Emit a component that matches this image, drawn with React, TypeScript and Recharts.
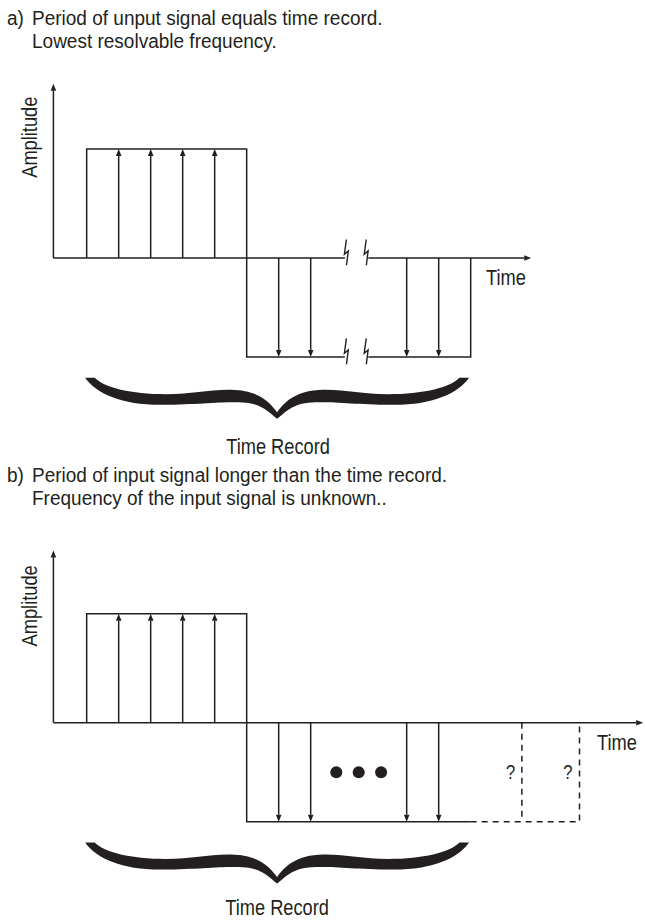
import React from "react"
import {
  ComposedChart, Line, Scatter, XAxis, YAxis,
  ReferenceLine, ReferenceArea,
} from "recharts"

// ─── Style ────────────────────────────────────────────────────────────────────
const INK = "#231f20"
const FONT = "'Liberation Sans', Arial, sans-serif"
const NARROW = 0.83   // condensed look of the original lettering
const W = 645
const H = 461

// x = sample index (one step between arrows), y = amplitude
const X_DOMAIN: [number, number] = [-2.709, 17.447]
const HIGH = 1.1
const LOW = -1.0

// ─── Panel a ──────────────────────────────────────────────────────────────────
const titleA = ["Period of unput signal equals time record.", "Lowest resolvable frequency."]
const waveA = [
  { x: 0, y: 0 }, { x: 0, y: HIGH }, { x: 5, y: HIGH }, { x: 5, y: LOW }, { x: 8.07, y: LOW },
  { x: 8.4, y: null },
  { x: 8.8, y: LOW }, { x: 12, y: LOW }, { x: 12, y: 0 },
]
const samplesA = [
  { x: 1, y: HIGH }, { x: 2, y: HIGH }, { x: 3, y: HIGH }, { x: 4, y: HIGH },
  { x: 6, y: LOW }, { x: 7, y: LOW }, { x: 10, y: LOW }, { x: 11, y: LOW },
]
const breaksA = [
  { x: 8.1, y: 0 }, { x: 8.72, y: 0 }, { x: 8.1, y: LOW }, { x: 8.72, y: LOW },
]
const labelsA = [
  { x: 13.1, y: -0.2, text: "Time" },
  { x: 5.98, y: -1.9, text: "Time Record" },
]
const yLabelA = [{ x: -1.79, y: 1.22, text: "Amplitude" }]

// ─── Panel b ──────────────────────────────────────────────────────────────────
const titleB = ["Period of input signal longer than the time record.", "Frequency of the input signal is unknown.."]
const waveB = [
  { x: 0, y: 0 }, { x: 0, y: HIGH }, { x: 5, y: HIGH }, { x: 5, y: LOW }, { x: 12, y: LOW },
]
const unknownB = [
  { x: 12, y: LOW }, { x: 15.4, y: LOW }, { x: 15.4, y: 0 },
  { x: 14.5, y: null },
  { x: 13.6, y: 0 }, { x: 13.6, y: LOW },
]
const samplesB = samplesA
const dotsB = [{ x: 7.8, y: -0.5 }, { x: 8.5, y: -0.5 }, { x: 9.2, y: -0.5 }]
const questionsB = [{ x: 13.25, y: -0.5, text: "?" }, { x: 15.04, y: -0.5, text: "?" }]
const labelsB = [
  { x: 16.57, y: -0.2, text: "Time" },
  { x: 5.95, y: -1.87, text: "Time Record" },
]
const yLabelB = [{ x: -1.79, y: 1.18, text: "Amplitude" }]

// ─── Shapes ───────────────────────────────────────────────────────────────────

function ArrowLine(props: any) {
  const { x1, y1, x2, y2 } = props
  const dx = x2 - x1, dy = y2 - y1
  const len = Math.hypot(dx, dy) || 1
  const ux = dx / len, uy = dy / len
  const L = 7, HW = 2.8
  const bx = x2 - ux * L, by = y2 - uy * L
  return (
    <g>
      <line x1={x1} y1={y1} x2={bx} y2={by} stroke={INK} strokeWidth={1.5} />
      <path d={`M${x2},${y2} L${bx - uy * HW},${by + ux * HW} L${bx + uy * HW},${by - ux * HW} Z`} fill={INK} />
    </g>
  )
}

function PlainLine(props: any) {
  const { x1, y1, x2, y2 } = props
  return <line x1={x1} y1={y1} x2={x2} y2={y2} stroke={INK} strokeWidth={1.5} />
}

function Bolt(props: any) {
  const { cx, cy } = props
  return (
    <path
      d={`M${cx + 0.5},${cy - 18.5} L${cx - 1.5},${cy - 3.7} L${cx + 2.4},${cy - 7} L${cx + 0.6},${cy + 7.3}`}
      fill="none" stroke={INK} strokeWidth={1.4}
    />
  )
}

function Dot(props: any) {
  return <circle cx={props.cx} cy={props.cy} r={6} fill={INK} />
}

function makeText(size: number, rotate = false) {
  return (props: any) => {
    const { cx, cy, payload } = props
    const t = `translate(${cx} ${cy})${rotate ? " rotate(-90)" : ""} scale(${NARROW} 1)`
    return (
      <text
        x={0} y={0} textAnchor="middle" dominantBaseline="central" transform={t}
        fontFamily={FONT} fontSize={size} fill={INK}
      >
        {payload.text}
      </text>
    )
  }
}

// curly brace opening upward, drawn inside the area box
function Brace(props: any) {
  const { x, y, width, height } = props
  const p = (u: number, v: number) => `${(x + u * width).toFixed(2)},${(y + v * height).toFixed(2)}`
  const d = [
    `M${p(0, 0)}`,
    `C${p(0.03, 0.4)} ${p(0.1, 0.67)} ${p(0.2, 0.66)}`,
    `C${p(0.3, 0.65)} ${p(0.35, 0.58)} ${p(0.41, 0.6)}`,
    `C${p(0.46, 0.62)} ${p(0.48, 0.85)} ${p(0.5, 1)}`,
    `C${p(0.52, 0.85)} ${p(0.54, 0.62)} ${p(0.59, 0.6)}`,
    `C${p(0.65, 0.58)} ${p(0.7, 0.65)} ${p(0.8, 0.66)}`,
    `C${p(0.9, 0.67)} ${p(0.97, 0.4)} ${p(1, 0)}`,
    `L${p(0.975, 0)}`,
    `C${p(0.95, 0.24)} ${p(0.88, 0.4)} ${p(0.79, 0.4)}`,
    `C${p(0.72, 0.4)} ${p(0.68, 0.28)} ${p(0.62, 0.29)}`,
    `C${p(0.55, 0.3)} ${p(0.52, 0.58)} ${p(0.5, 0.84)}`,
    `C${p(0.48, 0.58)} ${p(0.45, 0.3)} ${p(0.38, 0.29)}`,
    `C${p(0.32, 0.28)} ${p(0.28, 0.4)} ${p(0.21, 0.4)}`,
    `C${p(0.12, 0.4)} ${p(0.05, 0.24)} ${p(0.025, 0)}`,
    "Z",
  ].join(" ")
  return <path d={d} fill={INK} />
}

// ─── Title ────────────────────────────────────────────────────────────────────

function Title({ tag, lines, top }: { tag: string; lines: string[]; top: number }) {
  const style: React.CSSProperties = {
    position: "absolute", fontFamily: FONT, fontSize: 20, lineHeight: "23px",
    color: INK, whiteSpace: "nowrap", transform: "scaleX(0.95)", transformOrigin: "left center",
  }
  return (
    <>
      <div style={{ ...style, left: 7, top }}>{tag}</div>
      {lines.map((l, i) => (
        <div key={i} style={{ ...style, left: 32, top: top + i * 23 }}>{l}</div>
      ))}
    </>
  )
}

// ─── Panel ────────────────────────────────────────────────────────────────────

function Panel({ yDomain, xTip, yTip, wave, samples, breaks, unknown, dots, questions, labels, yLabel, xGap }: any) {
  return (
    <ComposedChart width={W} height={H} margin={{ top: 0, right: 0, bottom: 0, left: 0 }}>
      <XAxis dataKey="x" type="number" domain={X_DOMAIN} allowDataOverflow hide />
      <YAxis dataKey="y" type="number" domain={yDomain} allowDataOverflow hide />

      {/* axes */}
      <ReferenceLine segment={[{ x: -1.04, y: 0 }, { x: -1.04, y: yTip }]} shape={(p: any) => <ArrowLine {...p} />} />
      {xGap ? (
        <>
          <ReferenceLine segment={[{ x: -1.04, y: 0 }, { x: xGap[0], y: 0 }]} shape={(p: any) => <PlainLine {...p} />} />
          <ReferenceLine segment={[{ x: xGap[1], y: 0 }, { x: xTip, y: 0 }]} shape={(p: any) => <ArrowLine {...p} />} />
        </>
      ) : (
        <ReferenceLine segment={[{ x: -1.04, y: 0 }, { x: xTip, y: 0 }]} shape={(p: any) => <ArrowLine {...p} />} />
      )}

      {/* input signal */}
      <Line data={wave} dataKey="y" stroke={INK} strokeWidth={1.5} dot={false} activeDot={false}
        type="linear" isAnimationActive={false} strokeLinejoin="miter" />
      {unknown && (
        <Line data={unknown} dataKey="y" stroke={INK} strokeWidth={1.5} strokeDasharray="6 5" dot={false}
          activeDot={false} type="linear" isAnimationActive={false} />
      )}

      {/* samples */}
      {samples.map((s: any, i: number) => (
        <ReferenceLine key={i} segment={[{ x: s.x, y: 0 }, { x: s.x, y: s.y }]} shape={(p: any) => <ArrowLine {...p} />} />
      ))}

      {breaks && <Scatter data={breaks} shape={(p: any) => <Bolt {...p} />} isAnimationActive={false} />}
      {dots && <Scatter data={dots} shape={(p: any) => <Dot {...p} />} isAnimationActive={false} />}
      {questions && <Scatter data={questions} shape={makeText(20)} isAnimationActive={false} />}

      <ReferenceArea x1={-0.05} x2={11.95} y1={-1.21} y2={-1.625} shape={(p: any) => <Brace {...p} />} />

      <Scatter data={labels} shape={makeText(22)} isAnimationActive={false} />
      <Scatter data={yLabel} shape={makeText(22, true)} isAnimationActive={false} />
    </ComposedChart>
  )
}

export default function App() {
  return (
    <div style={{ position: "absolute", left: 0, top: 0, width: W, height: 922, background: "#fff" }}>
      <Title tag="a)" lines={titleA} top={7} />
      <div style={{ position: "absolute", left: 0, top: 0 }}>
        <Panel
          yDomain={[-2.051, 2.606]} xTip={13.89} yTip={1.76} xGap={[8.07, 8.8]}
          wave={waveA} samples={samplesA} breaks={breaksA}
          labels={labelsA} yLabel={yLabelA}
        />
      </div>

      <Title tag="b)" lines={titleB} top={464} />
      <div style={{ position: "absolute", left: 0, top: 461 }}>
        <Panel
          yDomain={[-2.013, 2.643]} xTip={17.39} yTip={1.74}
          wave={waveB} samples={samplesB} unknown={unknownB} dots={dotsB} questions={questionsB}
          labels={labelsB} yLabel={yLabelB}
        />
      </div>
    </div>
  )
}
